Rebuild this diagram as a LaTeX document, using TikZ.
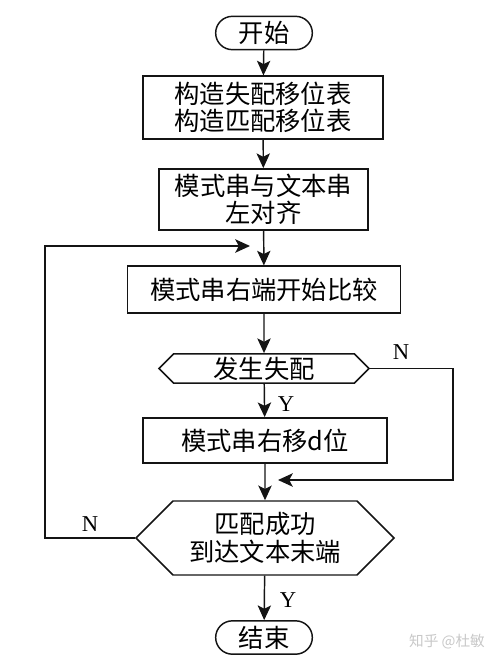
\documentclass[tikz,border=0pt]{standalone}
\usepackage{fontspec}
\usepackage{xcolor}
\usepackage{tikz}
\usetikzlibrary{arrows.meta,shapes.misc,shapes.symbols}
\setmainfont{Liberation Serif}
\newfontfamily\cjk{Noto Sans CJK SC}
\definecolor{flowline}{RGB}{20, 20, 20}
\definecolor{wmgray}{RGB}{200, 200, 200}

\tikzset{
  flowbox/.style={draw=flowline, line width=1.1pt, rectangle, align=center,
    font=\cjk\fontsize{19}{20.5}\selectfont, inner sep=2pt},
  termbox/.style={flowbox, rounded rectangle, minimum width=76.5pt, minimum height=25pt},
  testbox/.style={flowbox, signal, signal to=west and east, signal pointer angle=90,
    inner xsep=0pt},
  flowarrow/.style={line width=1.1pt, draw=flowline, -{Stealth[length=11pt,width=10pt,inset=2.5pt]}},
  yn/.style={font=\fontsize{17}{17}\selectfont}
}

\begin{document}
\begin{tikzpicture}[x=0.75pt, y=-0.75pt]
\useasboundingbox (0,0) rectangle (499,665);

% Nodes of the flow
\node[termbox] (start) at (264,33) {开始};
\node[flowbox, minimum width=180pt, minimum height=47pt] (tables) at (263,107.5) {构造失配移位表\\构造匹配移位表};
\node[flowbox, minimum width=157pt, minimum height=46pt] (align) at (263.5,199.5) {模式串与文本串\\左对齐};
\node[flowbox, minimum width=205pt, minimum height=35pt] (compare) at (264,289.5) {模式串右端开始比较};
\node[testbox, minimum width=157.5pt, minimum height=22pt] (mismatch) at (264,368.5) {发生失配};
\node[flowbox, minimum width=183pt, minimum height=34pt] (shift) at (265,440.5) {模式串右移d位};
\node[testbox, minimum width=193.5pt, minimum height=55.5pt] (done) at (265,538) {匹配成功\\到达文本末端};
\node[termbox] (stop) at (264,637.5) {结束};

% Straight arrows
\draw[flowarrow] (start) -- (tables);
\draw[flowarrow] (tables) -- (align);
\draw[flowarrow] (align) -- (compare);
\draw[flowarrow] (compare) -- (mismatch);
\draw[flowarrow] (mismatch) -- (shift);
\draw[flowarrow] (shift) -- (done);
\draw[flowarrow] (done) -- (stop);

% Loops back to the main line
\coordinate (rightin) at (278,480);
\coordinate (leftin) at (250,246);
\draw[flowarrow] (mismatch.east) -- (453,368.5) -- (453,480) -- (rightin);
\draw[flowarrow] (done.west) -- (45,538) -- (45,246) -- (leftin);

% Labels
\node[yn] (nright) at (401,352) {N};
\node[yn] (yshift) at (286,404) {Y};
\node[yn] (nleft) at (90,524) {N};
\node[yn] (ystop) at (288,600) {Y};

% Watermark
\node[wmgray, font=\cjk\fontsize{11}{11}\selectfont] (mark) at (447,642) {知乎 @杜敏};
\end{tikzpicture}
\end{document}
